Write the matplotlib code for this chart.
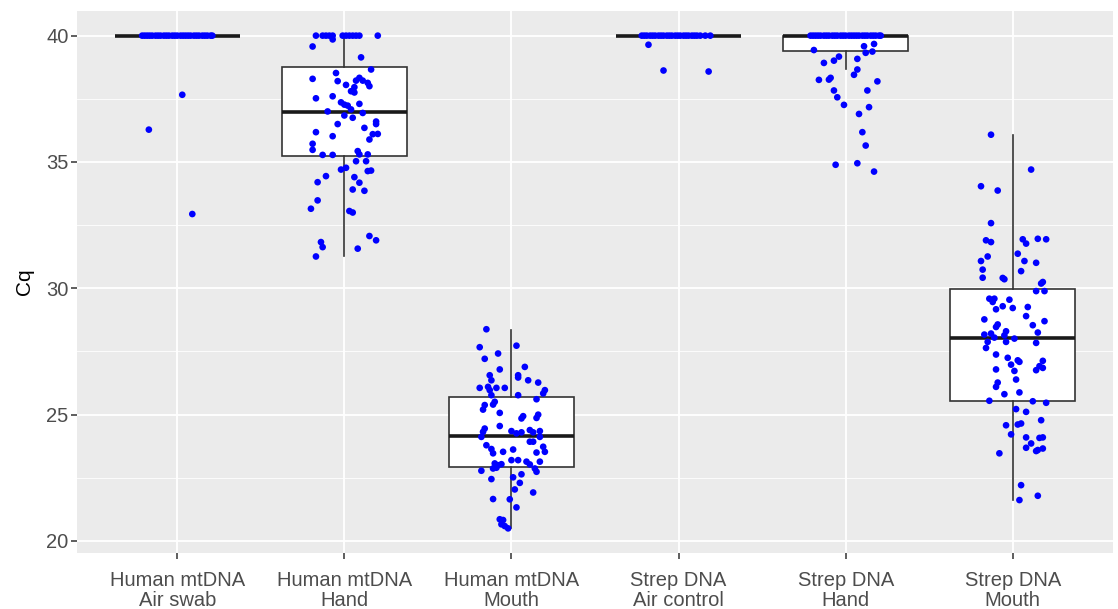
import matplotlib
matplotlib.use("Agg")
import matplotlib.pyplot as plt
from matplotlib.ticker import MultipleLocator

plt.rcParams['font.family'] = ['Liberation Sans', 'DejaVu Sans']

categories = ["Human mtDNA\nAir swab", "Human mtDNA\nHand", "Human mtDNA\nMouth",
              "Strep DNA\nAir control", "Strep DNA\nHand", "Strep DNA\nMouth"]

# box statistics
q1 = [40.00, 35.22, 22.94, 40.00, 39.41, 25.55]
med = [40.00, 36.97, 24.16, 40.00, 40.00, 28.04]
q3 = [40.00, 38.77, 25.70, 40.00, 40.00, 29.99]
whislo = [40.00, 31.26, 20.50, 40.00, 38.68, 21.62]
whishi = [40.00, 40.00, 28.37, 40.00, 40.00, 36.05]

# jittered points: Cq values and horizontal jitter (category units)
g1_cq = [40.0] * 27 + [37.66, 36.28, 32.94]
g1_jit = [-0.21, -0.195, -0.18, -0.165, -0.15, -0.13, -0.115, -0.10, -0.08, -0.065,
          -0.05, -0.03, -0.015, 0.0, 0.02, 0.035, 0.05, 0.065, 0.08, 0.10, 0.115,
          0.13, 0.15, 0.165, 0.18, 0.20, 0.21, 0.03, -0.17, 0.09]

g2_cq = [40.0] * 12 + [39.85, 39.57, 39.14, 38.66, 38.52, 38.29, 38.20, 38.05, 38.33, 38.22,
                       38.22, 38.13, 38.00, 37.96, 37.80, 37.75, 37.52, 37.60, 37.36, 37.27,
                       37.23, 37.30, 37.00, 37.08, 36.94, 36.84, 36.75, 36.50, 36.60, 36.50,
                       36.35, 36.18, 36.02, 36.11, 36.10, 35.89, 35.72, 35.48, 35.28, 35.28,
                       35.43, 35.30, 35.30, 35.03, 35.03, 34.70, 34.77, 34.64, 34.66, 34.44,
                       34.40, 34.20, 34.18, 33.91, 33.86, 33.48, 33.15, 33.06, 33.00, 32.07,
                       31.90, 31.83, 31.63, 31.57, 31.26]
g2_jit = [-0.17, -0.13, -0.11, -0.09, -0.07, -0.01, 0.01, 0.03, 0.05, 0.07, 0.09, 0.20,
          -0.07, -0.19, 0.10, 0.16, -0.05, -0.19, -0.04, 0.01, 0.09, 0.07,
          0.11, 0.14, 0.15, 0.06, 0.04, 0.06, -0.17, -0.07, -0.02, 0.00,
          0.02, 0.09, -0.10, 0.04, 0.11, 0.00, 0.05, -0.04, 0.19, 0.19,
          0.12, -0.17, -0.07, 0.20, 0.17, 0.15, -0.19, -0.19, -0.13, -0.07,
          0.08, 0.09, 0.14, 0.07, 0.13, -0.02, 0.01, 0.14, 0.16, -0.11,
          0.06, -0.16, 0.09, 0.05, 0.12, -0.16, -0.20, 0.03, 0.05, 0.15,
          0.19, -0.14, -0.13, 0.08, -0.17]

g3_cq = [28.38, 27.67, 27.73, 27.42, 27.21, 26.89, 26.79, 26.56, 26.56, 26.47,
         26.36, 26.36, 26.27, 26.06, 26.10, 25.97, 26.06, 26.06, 25.77, 25.97,
         25.84, 25.77, 25.61, 25.51, 25.40, 25.38, 25.20, 25.07, 24.94, 24.85,
         25.00, 24.87, 24.55, 24.45, 24.32, 24.12, 24.35, 24.26, 24.30, 24.39,
         24.30, 24.35, 24.12, 23.93, 23.93, 23.73, 23.53, 23.79, 23.64, 23.47,
         23.53, 23.62, 23.50, 23.20, 23.20, 23.14, 23.14, 23.03, 23.07, 23.00,
         23.04, 22.87, 22.90, 22.87, 22.74, 22.78, 22.45, 22.52, 22.64, 22.30,
         22.04, 21.92, 21.66, 21.65, 21.33, 20.86, 20.83, 20.66, 20.59, 20.50]
g3_jit = [-0.15, -0.19, 0.03, -0.08, -0.16, 0.08, -0.07, -0.13, 0.04, 0.04,
          0.10, -0.12, 0.16, -0.19, -0.14, -0.13, -0.09, -0.04, 0.04, 0.20,
          0.19, -0.12, 0.15, -0.10, -0.11, -0.16, -0.17, -0.07, 0.07, 0.06,
          0.16, 0.15, -0.07, -0.16, -0.17, -0.18, 0.00, 0.03, 0.06, 0.11,
          0.13, 0.17, 0.17, 0.11, 0.13, 0.19, 0.20, -0.15, -0.12, -0.11,
          -0.05, 0.01, 0.15, 0.00, 0.04, 0.09, 0.17, 0.11, -0.10, -0.08,
          -0.06, -0.11, -0.09, 0.14, 0.15, -0.18, -0.12, 0.01, 0.06, 0.05,
          0.02, 0.13, -0.11, -0.01, 0.03, -0.07, -0.05, -0.06, -0.04, -0.02]

g4_cq = [40.0] * 24 + [39.64, 38.62, 38.58]
g4_jit = [-0.22, -0.205, -0.19, -0.17, -0.155, -0.14, -0.12, -0.105, -0.09, -0.07,
          -0.055, -0.04, -0.02, -0.005, 0.01, 0.03, 0.045, 0.06, 0.08, 0.095,
          0.11, 0.13, 0.16, 0.19, -0.18, -0.09, 0.18]

g5_cq = [40.0] * 27 + [39.43, 39.58, 39.67, 39.32, 39.37, 39.17, 39.01, 38.92, 39.08, 38.66,
                       38.45, 38.25, 38.26, 38.33, 38.19, 37.83, 37.83, 37.56, 37.26, 37.17,
                       36.90, 36.18, 35.65, 34.89, 34.95, 34.62]
g5_jit = [-0.21, -0.195, -0.18, -0.165, -0.15, -0.13, -0.115, -0.10, -0.08, -0.065,
          -0.05, -0.03, -0.015, 0.0, 0.02, 0.035, 0.05, 0.065, 0.08, 0.10, 0.115,
          0.13, 0.15, 0.165, 0.18, 0.20, 0.21,
          -0.19, 0.11, 0.17, 0.12, 0.16, -0.04, -0.07, -0.13, 0.07, 0.07,
          0.05, -0.16, -0.10, -0.09, 0.19, -0.07, 0.13, -0.05, -0.01, 0.14,
          0.08, 0.10, 0.12, -0.06, 0.07, 0.17]

g6_cq = [36.08, 34.70, 34.04, 33.87, 32.58, 31.90, 31.83, 31.94, 31.77, 31.96,
         31.94, 31.26, 31.08, 31.37, 31.08, 31.01, 30.74, 30.68, 30.42, 30.41,
         30.36, 30.25, 30.19, 29.89, 29.89, 29.59, 29.59, 29.46, 29.55, 29.17,
         29.29, 29.22, 29.26, 28.77, 28.57, 28.47, 28.90, 28.70, 28.54, 28.30,
         28.25, 28.17, 28.21, 28.05, 28.14, 28.01, 27.88, 27.88, 27.64, 27.84,
         27.38, 27.25, 27.15, 27.09, 26.98, 26.79, 26.73, 26.76, 27.13, 26.85,
         26.92, 26.39, 26.27, 26.10, 25.81, 25.88, 25.55, 25.53, 25.47, 25.22,
         25.11, 24.78, 24.58, 24.61, 24.65, 24.22, 24.10, 23.86, 24.08, 24.10,
         23.69, 23.56, 23.60, 23.66, 23.47, 22.21, 21.79, 21.62]
g6_jit = [-0.13, 0.11, -0.19, -0.09, -0.13, -0.16, -0.13, 0.06, 0.08, 0.15,
          0.20, -0.15, -0.19, 0.03, 0.07, 0.14, -0.18, 0.05, -0.18, -0.06,
          -0.05, 0.18, 0.17, 0.14, 0.19, -0.14, -0.11, -0.12, -0.02, -0.10,
          -0.06, 0.00, 0.09, -0.17, -0.09, -0.10, 0.08, 0.19, 0.12, -0.04,
          0.15, -0.17, -0.13, -0.11, -0.05, 0.01, -0.04, -0.15, -0.16, 0.14,
          -0.10, -0.03, 0.03, 0.04, -0.01, -0.10, 0.01, 0.14, 0.18, 0.18,
          0.16, 0.02, -0.09, -0.10, -0.05, 0.04, -0.14, 0.12, 0.20, 0.02,
          0.08, 0.17, -0.04, 0.03, 0.05, -0.01, 0.08, 0.11, 0.16, 0.18,
          0.08, 0.14, 0.15, 0.18, -0.08, 0.05, 0.15, 0.04]

groups_cq = [g1_cq, g2_cq, g3_cq, g4_cq, g5_cq, g6_cq]
groups_jit = [g1_jit, g2_jit, g3_jit, g4_jit, g5_jit, g6_jit]

fig = plt.figure(figsize=(11.18, 6.09), dpi=100)
ax = fig.add_axes([77 / 1118, 1 - 553 / 609, (1113 - 77) / 1118, (553 - 11) / 609])
ax.set_facecolor('#EBEBEB')
for s in ax.spines.values():
    s.set_visible(False)

positions = list(range(len(categories)))
stats = []
for i in positions:
    stats.append(dict(q1=q1[i], med=med[i], q3=q3[i], whislo=whislo[i], whishi=whishi[i], fliers=[]))

ax.bxp(stats, positions=positions, widths=0.75, showfliers=False, showcaps=False,
       patch_artist=True,
       boxprops=dict(facecolor='white', edgecolor='#333333', linewidth=1.2),
       whiskerprops=dict(color='#333333', linewidth=1.2),
       medianprops=dict(color='#1a1a1a', linewidth=2.6, solid_capstyle='butt'),
       zorder=3)

for i, (cq, jit) in enumerate(zip(groups_cq, groups_jit)):
    xs = [i + j for j in jit]
    ax.scatter(xs, cq, s=23, color='#0000FF', edgecolors='none', zorder=4)

ax.set_xlim(-0.6, len(categories) - 0.4)
ax.set_ylim(19.525, 40.975)
ax.yaxis.set_major_locator(MultipleLocator(5))
ax.yaxis.set_minor_locator(MultipleLocator(2.5))
ax.set_xticks(positions)
ax.set_xticklabels(categories, linespacing=1.05)

ax.grid(which='major', axis='both', color='white', linewidth=1.3, zorder=0)
ax.grid(which='minor', axis='y', color='white', linewidth=0.6, zorder=0)
ax.set_axisbelow(True)

ax.tick_params(axis='both', which='major', colors='#333333', length=4, width=1.1,
               labelsize=14.5, labelcolor='#4D4D4D')
ax.tick_params(axis='x', which='major', pad=9)
ax.tick_params(axis='y', which='major', pad=2)
ax.tick_params(axis='y', which='minor', length=0)
ax.set_ylabel('Cq', fontsize=15, color='black', labelpad=9)

fig.savefig('out.png', dpi=100)
